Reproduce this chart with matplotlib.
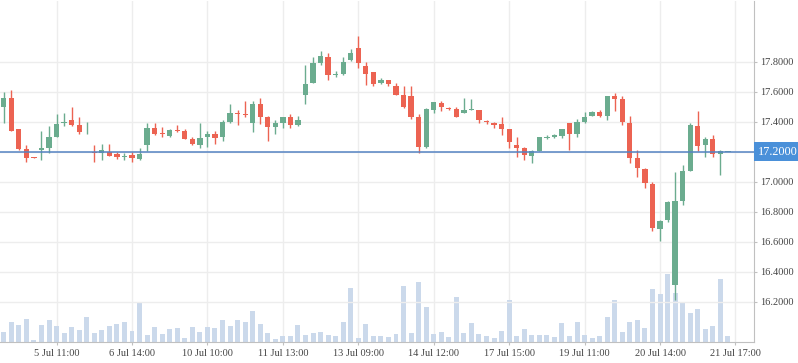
import numpy as np
import matplotlib.pyplot as plt

plt.rcParams['font.family'] = ['Liberation Serif', 'DejaVu Serif']
plt.rcParams['font.size'] = 7.5

# OHLC (97 bars on a 100 slot category axis)
opens = [17.50, 17.56, 17.35, 17.22, 17.165, 17.21, 17.225, 17.30, 17.393, 17.41,
         17.378, 17.335, 17.195, 17.193, 17.20, 17.185, 17.168, 17.178, 17.151, 17.245,
         17.356, 17.327, 17.307, 17.345, 17.338, 17.283, 17.245, 17.30, 17.318, 17.30,
         17.398, 17.458, 17.451, 17.393, 17.518, 17.431, 17.367, 17.393, 17.431, 17.38,
         17.578, 17.66, 17.791, 17.831, 17.714, 17.718, 17.811, 17.891, 17.771, 17.731,
         17.656, 17.678, 17.638, 17.578, 17.571, 17.433, 17.233, 17.48, 17.525, 17.491,
         17.485, 17.46, 17.476, 17.478, 17.405, 17.393, 17.385, 17.351, 17.245, 17.225,
         17.171, 17.205, 17.291, 17.298, 17.307, 17.391, 17.32, 17.40, 17.44, 17.465,
         17.44, 17.571, 17.551, 17.391, 17.158, 17.085, 16.985, 16.685, 16.745, 16.311,
         16.871, 17.071, 17.371, 17.245, 17.285, 17.185, 17.20]
highs = [17.60, 17.61, 17.35, 17.245, 17.166, 17.338, 17.373, 17.45, 17.458, 17.50,
         17.431, 17.398, 17.245, 17.25, 17.25, 17.20, 17.19, 17.20, 17.225, 17.393,
         17.393, 17.365, 17.351, 17.378, 17.351, 17.298, 17.393, 17.338, 17.338, 17.411,
         17.518, 17.478, 17.538, 17.538, 17.558, 17.438, 17.411, 17.431, 17.451, 17.438,
         17.778, 17.831, 17.871, 17.858, 17.74, 17.831, 17.884, 17.971, 17.80, 17.731,
         17.691, 17.678, 17.656, 17.638, 17.638, 17.451, 17.491, 17.531, 17.538, 17.498,
         17.498, 17.558, 17.551, 17.478, 17.411, 17.398, 17.433, 17.351, 17.298, 17.231,
         17.211, 17.298, 17.311, 17.318, 17.351, 17.391, 17.418, 17.465, 17.471, 17.478,
         17.571, 17.591, 17.571, 17.438, 17.211, 17.091, 16.998, 16.745, 16.871, 17.065,
         17.111, 17.391, 17.471, 17.298, 17.311, 17.211, 17.20]
lows = [17.39, 17.34, 17.21, 17.133, 17.16, 17.145, 17.193, 17.30, 17.373, 17.373,
        17.32, 17.318, 17.133, 17.145, 17.17, 17.153, 17.145, 17.133, 17.145, 17.205,
        17.31, 17.30, 17.30, 17.333, 17.285, 17.247, 17.223, 17.233, 17.253, 17.271,
        17.391, 17.38, 17.429, 17.333, 17.387, 17.273, 17.318, 17.36, 17.36, 17.373,
        17.518, 17.66, 17.78, 17.678, 17.70, 17.711, 17.807, 17.76, 17.645, 17.638,
        17.651, 17.638, 17.578, 17.489, 17.418, 17.193, 17.227, 17.46, 17.471, 17.478,
        17.433, 17.46, 17.476, 17.393, 17.385, 17.36, 17.311, 17.225, 17.165, 17.145,
        17.125, 17.205, 17.285, 17.291, 17.293, 17.211, 17.30, 17.393, 17.44, 17.433,
        17.411, 17.471, 17.378, 17.125, 17.031, 16.958, 16.671, 16.605, 16.731, 16.211,
        16.845, 17.071, 17.205, 17.165, 17.165, 17.045, 17.20]
closes = [17.56, 17.34, 17.22, 17.16, 17.16, 17.225, 17.298, 17.385, 17.397, 17.38,
          17.333, 17.34, 17.19, 17.21, 17.173, 17.167, 17.172, 17.16, 17.185, 17.356,
          17.318, 17.316, 17.345, 17.338, 17.287, 17.253, 17.293, 17.318, 17.293, 17.398,
          17.458, 17.451, 17.444, 17.518, 17.433, 17.367, 17.391, 17.431, 17.38, 17.411,
          17.651, 17.791, 17.836, 17.711, 17.716, 17.798, 17.858, 17.793, 17.718, 17.651,
          17.678, 17.651, 17.578, 17.496, 17.429, 17.233, 17.485, 17.531, 17.50, 17.485,
          17.433, 17.478, 17.478, 17.411, 17.398, 17.38, 17.351, 17.267, 17.225, 17.178,
          17.205, 17.298, 17.298, 17.311, 17.351, 17.32, 17.40, 17.433, 17.465, 17.44,
          17.571, 17.551, 17.398, 17.158, 17.091, 16.991, 16.691, 16.738, 16.865, 16.871,
          17.071, 17.378, 17.238, 17.285, 17.185, 17.205, 17.20]
volumes = [10.7, 20.3, 17.7, 23.3, 2.3, 17.7, 22.3, 16.3, 9.7, 15.3,
           12.3, 25.3, 9.7, 12.3, 16.3, 18.7, 20.3, 11.3, 39.3, 7.7,
           15.3, 8.7, 13.3, 14.3, 4.7, 15.3, 10.3, 15.3, 14.3, 22.3,
           16.3, 22.3, 20.3, 31.3, 18.7, 9.7, 3.3, 6.3, 6.3, 17.3,
           7.7, 9.7, 10.3, 7.3, 6.3, 20.3, 54.3, 4.3, 18.7, 6.3,
           6.3, 5.3, 8.3, 56.3, 9.3, 60.3, 35.3, 8.3, 10.3, 5.3,
           45.7, 9.7, 19.3, 8.7, 6.3, 4.3, 11.3, 42.3, 6.3, 13.3,
           7.3, 7.3, 7.3, 5.3, 19.3, 6.3, 20.3, 7.3, 4.3, 6.3,
           25.3, 42.3, 10.3, 20.3, 22.3, 14.3, 53, 48, 68, 49,
           39, 29.3, 33.3, 13.3, 16.3, 63, 6.3]

n_slots = 100
tick_idx = [7, 17, 27, 37, 47, 57, 67, 77, 87, 97]
tick_labels = ['5 Jul 11:00', '6 Jul 14:00', '10 Jul 10:00', '11 Jul 13:00', '13 Jul 09:00',
               '14 Jul 12:00', '17 Jul 15:00', '19 Jul 11:00', '20 Jul 14:00', '21 Jul 17:00']
price_ticks = [16.2, 16.4, 16.6, 16.8, 17.0, 17.2, 17.4, 17.6, 17.8]
last_price = 17.2

up_col = '#6bac8f'
down_col = '#ec6352'
axis_col = '#c0c0c0'
grid_col = '#ededed'

fig = plt.figure(figsize=(7.98, 3.63), dpi=100)
rect = [0, 20.7 / 363, 754.3 / 798, 341.3 / 363]
vax = fig.add_axes(rect)
ax = vax.twinx()

x = np.arange(len(opens))
o = np.array(opens)
c = np.array(closes)

# volume underneath
vax.bar(x, volumes, width=0.66, color='#cbd9eb', zorder=2)
vax.set_ylim(0, 341.3)
vax.set_xlim(-0.5, n_slots - 0.5)
vax.set_yticks([])
vax.set_xticks(tick_idx, tick_labels)
vax.grid(axis='x', color=grid_col, lw=1)
vax.set_axisbelow(True)
vax.tick_params(axis='x', length=2.5, width=0.8, color=axis_col, labelcolor='#444444', pad=2)
for s in ['top', 'left', 'right']:
    vax.spines[s].set_visible(False)
vax.spines['bottom'].set_color(axis_col)

# candles
cols = [up_col if cc >= oo else down_col for oo, cc in zip(o, c)]
ax.grid(axis='y', color=grid_col, lw=1, zorder=0)
ax.vlines(x, lows, highs, colors=cols, lw=1, zorder=3)
ax.bar(x, np.maximum(np.abs(c - o), 0.006), bottom=np.minimum(o, c), width=0.7,
       color=cols, zorder=4)
ax.set_ylim(15.929, 18.205)
# the tick label under the price box is covered in the original, so leave it blank
ax.set_yticks(price_ticks, ['' if abs(v - last_price) < 1e-9 else f'{v:.4f}' for v in price_ticks])
ax.tick_params(axis='y', length=2.5, width=0.8, color=axis_col, labelcolor='#444444', pad=1.5)
for s in ['top', 'left', 'bottom']:
    ax.spines[s].set_visible(False)
ax.spines['right'].set_color(axis_col)

# current price line + label
ax.axhline(last_price, color='#5583c2', lw=1.1, zorder=5)
ax.annotate(f'{last_price:.4f}', xy=(1, last_price), xycoords=ax.get_yaxis_transform(),
            xytext=(2.6, 0), textcoords='offset points', ha='left', va='center',
            color='white', fontsize=8.8,
            bbox=dict(boxstyle='square,pad=0.3', fc='#4a90d9', ec='none'),
            annotation_clip=False, zorder=10)

fig.savefig('out.png', dpi=100)
